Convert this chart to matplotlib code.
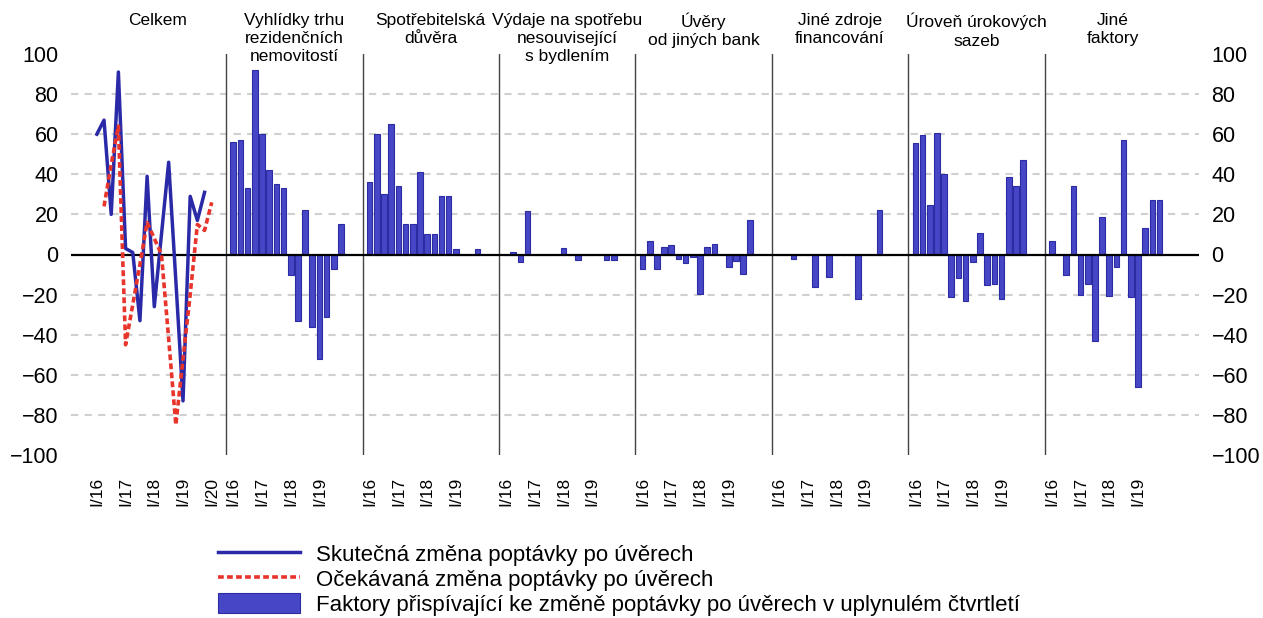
import matplotlib
matplotlib.use("Agg")
import matplotlib.pyplot as plt
from matplotlib.lines import Line2D
from matplotlib.patches import Patch
from matplotlib.transforms import blended_transform_factory

plt.rcParams['font.family'] = ['Liberation Sans', 'DejaVu Sans']

# ---------------- data ----------------
panel_titles = [
    "Celkem",
    "Vyhlídky trhu\nrezidenčních\nnemovitostí",
    "Spotřebitelská\ndůvěra",
    "Výdaje na spotřebu\nnesouvisející\ns bydlením",
    "Úvěry\nod jiných bank",
    "Jiné zdroje\nfinancování",
    "Úroveň úrokových\nsazeb",
    "Jiné\nfaktory",
]

# Panel 1: quarters I/16 .. IV/19 (actual), II/16 .. I/20 (expected)
actual_change = [60, 67, 20, 91, 3, 1, -33, 39, -26, 10, 46, -13, -73, 29, 17, 31]
expected_change = [24, 45, 64, -45, -25, -5, 16, 8, 0, -42, -85, -52, -20, 15, 12, 26]

# Factors, quarters I/16 .. IV/19
housing_outlook = [56, 57, 33, 92, 60, 42, 35, 33, -10, -33, 22, -36, -52, -31, -7, 15]
consumer_conf = [36, 60, 30, 65, 34, 15, 15, 41, 10, 10, 29, 29, 2.5, 0, 0, 2.5]
non_housing = [0, 1, -3.5, 21.5, 0, 0, 0, 0, 3.3, 0, -2.8, 0, 0, 0, -2.8, -2.8]
other_banks = [-7, 6.5, -7, 3.5, 4.5, -2, -4, -1, -19.5, 3.5, 5, 0, -6, -3, -9.5, 17]
other_finance = [0, 0, -2, 0, 0, -16, 0, -11, 0, 0, 0, -22, 0, 0, 22, 0]
interest_rates = [55.5, 59.5, 24.5, 60.5, 40, -21, -11.5, -23, -3.5, 10.5, -15, -14.5, -22, 38.5, 34, 47]
other_factors = [6.5, 0, -10, 34, -20, -14.5, -43, 18.5, -20.5, -6, 57, -21, -66, 13, 27, 27]

factor_series = [housing_outlook, consumer_conf, non_housing, other_banks,
                 other_finance, interest_rates, other_factors]

tick_labels_p1 = ["I/16", "I/17", "I/18", "I/19", "I/20"]
tick_labels_px = ["I/16", "I/17", "I/18", "I/19"]

legend_labels = [
    "Skutečná změna poptávky po úvěrech",
    "Očekávaná změna poptávky po úvěrech",
    "Faktory přispívající ke změně poptávky po úvěrech v uplynulém čtvrtletí",
]

# ---------------- style ----------------
SLOTS = 19          # category slots per panel
BLUE_LINE = "#2A2AA8"
RED = "#E8352B"
BAR_FILL = "#4646C6"
BAR_EDGE = "#2C2CA2"
GRID = "#D0D0D0"

fig = plt.figure(figsize=(12.63, 6.18), dpi=100)
ax = fig.add_axes([71 / 1263, 1 - 455 / 618, (1199 - 71) / 1263, (455 - 54) / 618])

# gridlines (dashed), zero line solid
for v in range(-80, 100, 20):
    if v == 0:
        continue
    ax.axhline(v, color=GRID, lw=1.5, ls=(0, (3.5, 3)), zorder=0)
ax.axhline(0, color="black", lw=1.6, zorder=3)

# panel 1 lines
x_act = list(range(len(actual_change)))
x_exp = [i + 1 for i in range(len(expected_change))]
ax.plot(x_act, actual_change, color=BLUE_LINE, lw=2.5, zorder=4)
ax.plot(x_exp, expected_change, color=RED, lw=2.6, ls=(0, (1.6, 0.9)), zorder=4)

# bars
for p, series in enumerate(factor_series, start=1):
    xs = [p * SLOTS + q for q in range(len(series))]
    ax.bar(xs, series, width=0.78, color=BAR_FILL, edgecolor=BAR_EDGE,
           linewidth=0.8, zorder=2)

# panel separators
for p in range(1, 8):
    ax.axvline(p * SLOTS - 1, color="#444444", lw=1.0, zorder=1)

# x ticks
ticks, labels = [], []
for q, lab in enumerate(tick_labels_p1):
    ticks.append(q * 4)
    labels.append(lab)
for p in range(1, 8):
    for q, lab in enumerate(tick_labels_px):
        ticks.append(p * SLOTS + q * 4)
        labels.append(lab)
ax.set_xticks(ticks)
ax.set_xticklabels(labels, rotation=90, fontsize=12.5, va="top", ha="center")
ax.tick_params(axis="x", length=0, pad=16)

ax.set_xlim(-3.6, 153.5)
ax.set_ylim(-100, 100)
ax.set_yticks(range(-100, 101, 20))
ax.tick_params(axis="y", length=0, labelsize=15.5, pad=9, labelleft=True,
               labelright=True)

for s in ax.spines.values():
    s.set_visible(False)

# panel titles
trans = blended_transform_factory(ax.transData, fig.transFigure)
for p, title in enumerate(panel_titles):
    ax.text(p * SLOTS + 8.5, 1 - 13 / 618, title, transform=trans, ha="center",
            va="top", fontsize=12.5, linespacing=1.25)

# legend
handles = [
    Line2D([], [], color=BLUE_LINE, lw=2.5),
    Line2D([], [], color=RED, lw=2.6, ls=(0, (1.6, 0.9))),
    Patch(facecolor=BAR_FILL, edgecolor=BAR_EDGE, linewidth=0.8),
]
fig.legend(handles, legend_labels, loc="upper left",
           bbox_to_anchor=(218 / 1263, 1 - 543 / 618), frameon=False,
           fontsize=16, handlelength=3.7, handleheight=1.0, handletextpad=0.7,
           labelspacing=0.12, borderpad=0, borderaxespad=0)

fig.savefig("out.png", dpi=100)
